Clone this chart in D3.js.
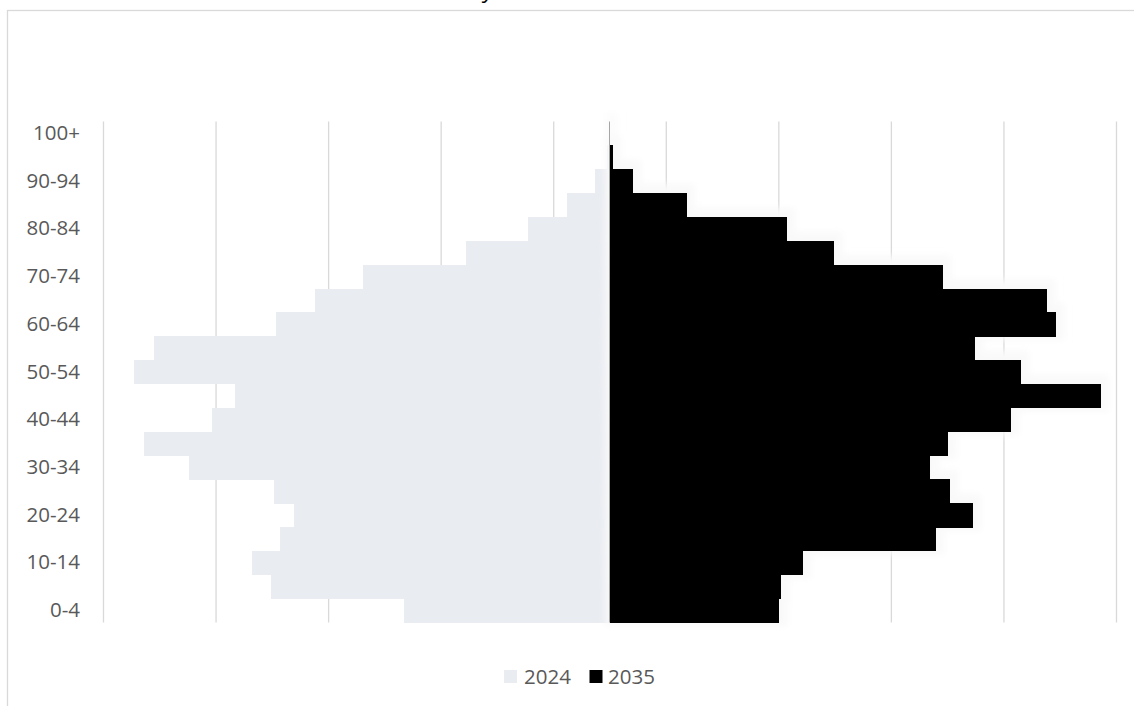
<!DOCTYPE html>
<html>
<head>
<meta charset="utf-8">
<script src="https://cdn.jsdelivr.net/npm/d3@7"></script>
<style>
  html, body { margin: 0; padding: 0; background: #ffffff; }
  svg { display: block; }
</style>
</head>
<body>
<svg id="chart" width="1134" height="706"></svg>
<script>
// Age groups, youngest first
const ageGroups = ["0-4","5-9","10-14","15-19","20-24","25-29","30-34","35-39","40-44","45-49",
  "50-54","55-59","60-64","65-69","70-74","75-79","80-84","85-89","90-94","95-99","100+"];

// Share of population per age group (%)
const pop2024 = [3.65, 6.02, 6.35, 5.86, 5.61, 5.96, 7.47, 8.28, 7.06, 6.65,
  8.45, 8.09, 5.93, 5.23, 4.38, 2.55, 1.45, 0.76, 0.26, 0.05, 0.01];
const pop2035 = [3.02, 3.05, 3.44, 5.80, 6.46, 6.05, 5.70, 6.02, 7.13, 8.73,
  7.31, 6.50, 7.94, 7.78, 5.93, 3.99, 3.15, 1.37, 0.42, 0.06, 0.01];

// Age labels shown on the vertical axis
const ageTicks = ["0-4","10-14","20-24","30-34","40-44","50-54","60-64","70-74","80-84","90-94","100+"];
// Vertical gridline positions (%)
const gridValues = [-9, -7, -5, -3, -1, 1, 3, 5, 7, 9];
const seriesNames = ["2024", "2035"];

const colors = { "2024": "#e9ecf1", "2035": "#000000" };
const textColor = "#595959";
const fontFamily = "'Open Sans', 'Noto Sans', sans-serif";

const svg = d3.select("#chart");

// outer frame
svg.append("rect")
  .attr("x", 7.5).attr("y", 10.5)
  .attr("width", 1140).attr("height", 720)
  .attr("fill", "#ffffff")
  .attr("stroke", "#d9d9d9").attr("stroke-width", 1.3);

// title (sits above the frame)
svg.append("text")
  .attr("x", 484).attr("y", -2)
  .attr("font-family", fontFamily).attr("font-style", "italic")
  .attr("font-size", 22).attr("fill", "#000")
  .text("y");

const plot = { left: 103, right: 1116, top: 121.5, bottom: 622.5 };

const x = d3.scaleLinear().domain([-9, 9]).range([plot.left, plot.right]);
const y = d3.scaleBand().domain(ageGroups).range([plot.bottom, plot.top]).padding(0);

// gridlines
svg.append("g")
  .attr("transform", `translate(0,${plot.bottom})`)
  .call(d3.axisBottom(x).tickValues(gridValues).tickFormat("").tickSize(-(plot.bottom - plot.top)))
  .call(g => g.select(".domain").remove())
  .call(g => g.selectAll(".tick line").attr("stroke", "#d9d9d9").attr("stroke-width", 1.3));

const rows = ageGroups.map((a, i) => ({ age: a, v24: pop2024[i], v35: pop2035[i] }));

// 2024 to the left of centre
svg.append("g").attr("shape-rendering", "crispEdges")
  .selectAll("rect").data(rows).join("rect")
  .attr("x", d => x(-d.v24))
  .attr("y", d => y(d.age))
  .attr("width", d => x(0) - x(-d.v24))
  .attr("height", y.bandwidth() + 0.5)
  .attr("fill", colors["2024"]);

// soft glow behind the 2035 bars
const defs = svg.append("defs");
const glow = defs.append("filter").attr("id", "glow")
  .attr("x", "-20%").attr("y", "-20%").attr("width", "140%").attr("height", "140%");
glow.append("feMorphology").attr("operator", "dilate").attr("radius", 6).attr("in", "SourceGraphic").attr("result", "d");
glow.append("feOffset").attr("in", "d").attr("dx", 2).attr("dy", -3).attr("result", "o");
glow.append("feGaussianBlur").attr("in", "o").attr("stdDeviation", 3.5);

svg.append("g").attr("filter", "url(#glow)")
  .selectAll("rect").data(rows).join("rect")
  .attr("x", x(0))
  .attr("y", d => y(d.age))
  .attr("width", d => x(d.v35) - x(0))
  .attr("height", y.bandwidth() + 0.5)
  .attr("fill", "#f9f9f9");

// 2035 to the right of centre
svg.append("g").attr("shape-rendering", "crispEdges")
  .selectAll("rect").data(rows).join("rect")
  .attr("x", x(0))
  .attr("y", d => y(d.age))
  .attr("width", d => x(d.v35) - x(0))
  .attr("height", y.bandwidth() + 0.5)
  .attr("fill", colors["2035"]);

// centre axis line
svg.append("line")
  .attr("x1", x(0)).attr("x2", x(0))
  .attr("y1", plot.top).attr("y2", plot.bottom)
  .attr("stroke", "#a6a6a6").attr("stroke-width", 1);

// age labels
svg.append("g")
  .attr("transform", `translate(${plot.left},0)`)
  .call(d3.axisLeft(y).tickValues(ageTicks).tickSize(0).tickPadding(23))
  .call(g => g.select(".domain").remove())
  .call(g => g.selectAll("text")
    .attr("font-family", fontFamily).attr("font-size", 20.5).attr("fill", textColor));

// legend
const legend = svg.append("g");
const legendItems = [
  { name: seriesNames[0], sx: 504, tx: 524 },
  { name: seriesNames[1], sx: 589.5, tx: 608 }
];
legendItems.forEach(it => {
  legend.append("rect")
    .attr("x", it.sx).attr("y", 670)
    .attr("width", 13).attr("height", 13)
    .attr("fill", colors[it.name]);
  legend.append("text")
    .attr("x", it.tx).attr("y", 684)
    .attr("font-family", fontFamily).attr("font-size", 20.5).attr("fill", textColor)
    .text(it.name);
});
</script>
</body>
</html>
